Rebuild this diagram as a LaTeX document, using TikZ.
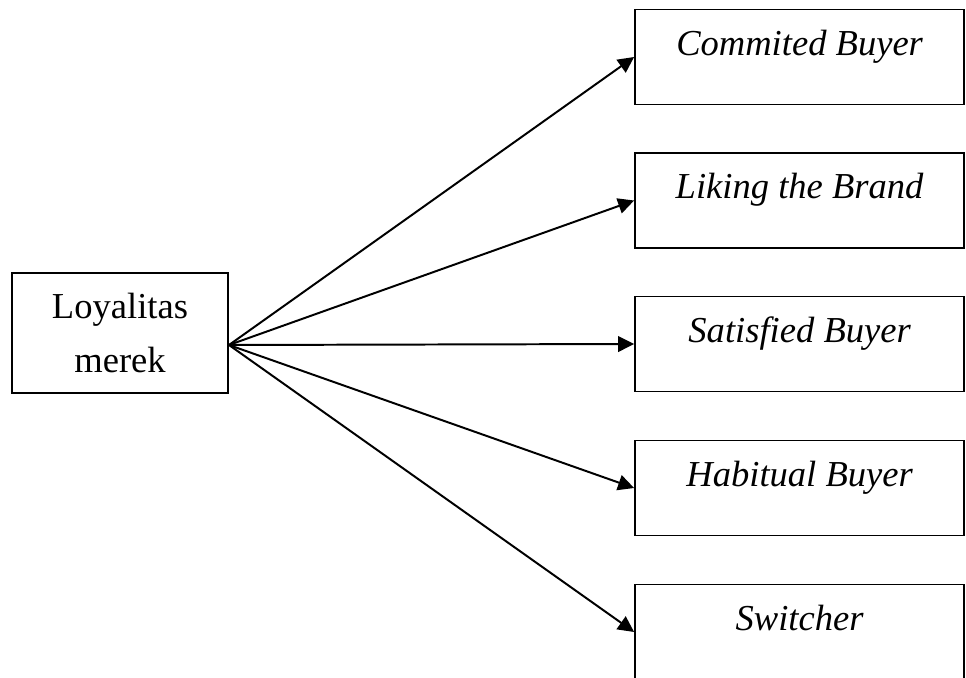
\documentclass[tikz,border=0pt]{standalone}
\usepackage{fontspec}
\setmainfont{Liberation Serif}
\usetikzlibrary{arrows.meta}
\usetikzlibrary{positioning}

\begin{document}
\begin{tikzpicture}[
  kotak/.style={draw, line width=1.4pt, rectangle, inner sep=0pt,
    minimum width=8.225cm, text height=1.15cm, text depth=1.225cm,
    font=\fontsize{26}{39}\selectfont\itshape},
  panah/.style={line width=1.4pt, -{Triangle[length=4mm,width=3.9mm]}}
]
\useasboundingbox (0,0) rectangle (24.15,-16.95);
\node[draw, line width=1.4pt, minimum width=5.4cm, minimum height=3cm,
  align=center, font=\fontsize{26}{39}\selectfont] (loyal) at (3.0,-8.325) {Loyalitas\\merek};
\node[kotak] (commited) at (19.99,-1.425) {Commited Buyer};
\node[kotak] (liking) at (19.99,-5.0125) {Liking the Brand};
\node[kotak] (satisfied) at (19.99,-8.6) {Satisfied Buyer};
\node[kotak] (habitual) at (19.99,-12.2) {Habitual Buyer};
\node[kotak] (switcher) at (19.99,-15.8) {Switcher};
\coordinate (asal) at ([yshift=-0.3cm]loyal.east);
\foreach \n in {commited,liking,satisfied,habitual,switcher}
  \draw[panah] (asal) -- (\n.west);
\end{tikzpicture}
\end{document}
